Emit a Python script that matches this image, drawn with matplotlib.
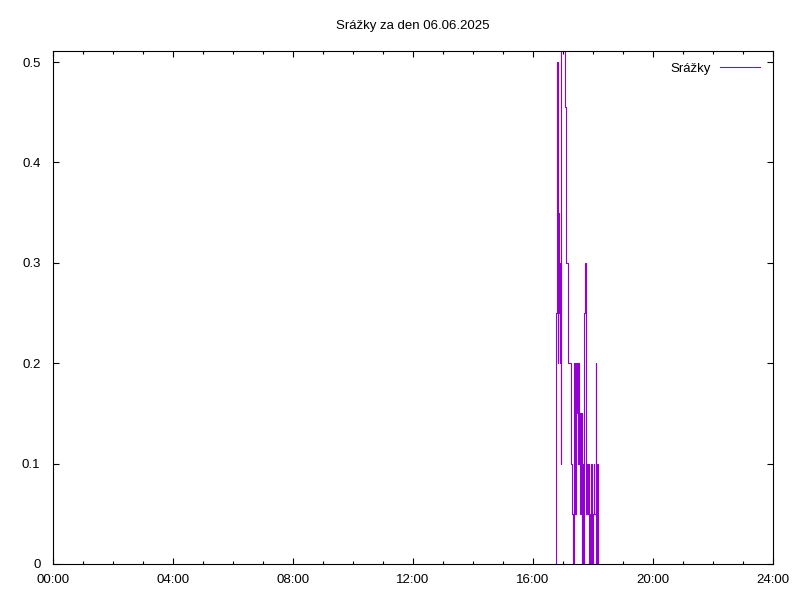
import matplotlib
matplotlib.use("Agg")
import matplotlib.pyplot as plt
from matplotlib.ticker import MultipleLocator, FuncFormatter

plt.rcParams["font.family"] = ["Liberation Sans", "DejaVu Sans"]
plt.rcParams["font.size"] = 9.5

# srážky za den (čas HH:MM, hodnota v mm), kreslí se schodovitě
times = ["16:45", "16:46", "16:47", "16:48", "16:49", "16:50", "16:51", "16:52",
         "16:53", "16:54", "16:55", "16:56", "17:04", "17:06", "17:09", "17:15",
         "17:16", "17:18", "17:20", "17:22", "17:23", "17:25", "17:26", "17:27",
         "17:29", "17:30", "17:31", "17:33", "17:34", "17:35", "17:37", "17:38",
         "17:39", "17:41", "17:42", "17:43", "17:45", "17:46", "17:47", "17:49",
         "17:50", "17:51", "17:53", "17:54", "17:55", "17:57", "17:58", "17:59",
         "18:01", "18:02", "18:05", "18:06", "18:07", "18:09"]
srazky = [0.0, 0.25, 0.35, 0.5, 0.2, 0.35, 0.25, 0.3,
          0.2, 0.3, 0.1, 0.6, 0.455, 0.3, 0.2, 0.15,
          0.1, 0.05, 0.0, 0.2, 0.05, 0.2, 0.15, 0.2,
          0.1, 0.2, 0.1, 0.15, 0.05, 0.15, 0.0, 0.1,
          0.0, 0.15, 0.25, 0.3, 0.2, 0.05, 0.1, 0.05,
          0.1, 0.0, 0.05, 0.0, 0.1, 0.05, 0.0, 0.05,
          0.1, 0.05, 0.2, 0.0, 0.1, 0.0]
title = "Srážky za den 06.06.2025"

hours = [int(t[:2]) + int(t[3:]) / 60 for t in times]

fig = plt.figure(figsize=(8, 6), dpi=100)
ax = fig.add_axes([53 / 800, 36 / 600, 720 / 800, 513 / 600])

ax.step(hours, srazky, where="post", color="#9400D3", linewidth=0.8, label="Srážky")

ax.set_xlim(0, 24)
ax.set_ylim(0, 0.511)
ax.xaxis.set_major_locator(MultipleLocator(4))
ax.xaxis.set_minor_locator(MultipleLocator(1))
ax.yaxis.set_major_locator(MultipleLocator(0.1))
ax.xaxis.set_major_formatter(FuncFormatter(lambda v, p: "%02d:00" % int(round(v))))
ax.yaxis.set_major_formatter(FuncFormatter(lambda v, p: "%g" % round(v, 2)))

ax.tick_params(which="both", direction="in", top=True, right=True, width=0.8)
ax.tick_params(which="major", length=4.5)
ax.tick_params(which="minor", length=2.2)
ax.tick_params(axis="x", which="major", pad=7.5)
ax.tick_params(axis="y", which="major", pad=9)
for s in ax.spines.values():
    s.set_linewidth(0.8)

# legenda jako v gnuplotu: text vlevo, čára vpravo
ax.legend(loc="upper right", frameon=False, markerfirst=False, handlelength=3.0,
          handletextpad=0.7, borderaxespad=0.4, bbox_to_anchor=(0.996, 0.998))

fig.text(0.516, 1 - 26 / 600, title, ha="center", va="center")

fig.savefig("out.png", dpi=100)
